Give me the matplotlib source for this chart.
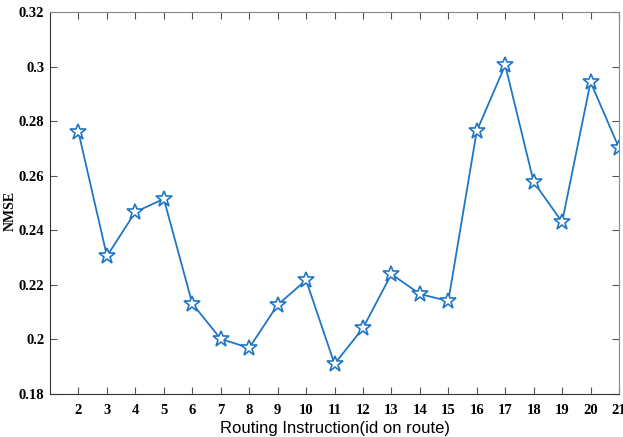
import numpy as np
import matplotlib.pyplot as plt

# NMSE per routing instruction
ids = [2, 3, 4, 5, 6, 7, 8, 9, 10, 11, 12, 13, 14, 15, 16, 17, 18, 19, 20, 21]
nmse = [0.2761, 0.2306, 0.2468, 0.2516, 0.2132, 0.2002, 0.1969, 0.2127, 0.2218, 0.1910,
        0.2042, 0.2240, 0.2167, 0.2141, 0.2765, 0.3007, 0.2578, 0.2431, 0.2945, 0.2703]

yticks = [0.18, 0.2, 0.22, 0.24, 0.26, 0.28, 0.3, 0.32]
ytick_labels = ['0.18', '0.2', '0.22', '0.24', '0.26', '0.28', '0.3', '0.32']

fig = plt.figure(figsize=(6.23, 4.37), dpi=100)
ax = fig.add_axes([0.0803, 0.0984, 0.9133, 0.873])

ax.plot(ids, nmse, color='#1f77c4', linewidth=1.3, marker='*', markersize=12,
        markerfacecolor='white', markeredgecolor='#1f77c4', markeredgewidth=1.2)

ax.set_xlim(1, 21)
ax.set_ylim(0.18, 0.32)
ax.set_xticks(ids)
ax.set_yticks(yticks)
ax.set_yticklabels(ytick_labels)

ax.tick_params(direction='in', top=True, right=True, length=5, width=0.8,
               color='#555555')
ax.tick_params(axis='y', pad=4)
ax.tick_params(axis='x', pad=7)
for lab in ax.get_xticklabels() + ax.get_yticklabels():
    lab.set_family('Liberation Serif')
    lab.set_fontweight('bold')
    lab.set_fontsize(10.5)

for s in ['left', 'bottom']:
    ax.spines[s].set_color('#333333')
for s in ['top', 'right']:
    ax.spines[s].set_color('#888888')

ax.set_ylabel('NMSE', family='Liberation Serif', fontweight='bold', fontsize=10)
ax.yaxis.set_label_coords(-0.058, 0.48)
ax.set_xlabel('Routing Instruction(id on route)', family='Liberation Sans', fontsize=12, labelpad=3)

plt.savefig('out.png', dpi=100)
